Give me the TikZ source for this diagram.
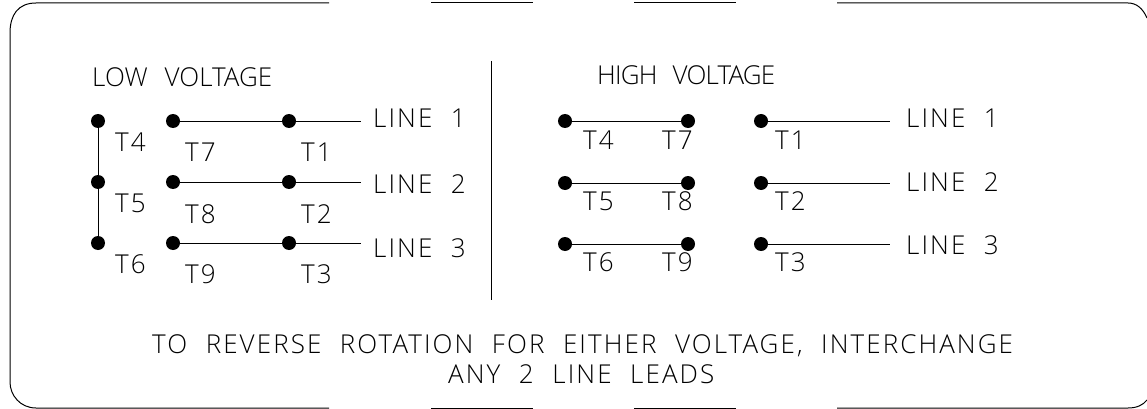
\documentclass[tikz,border=0pt]{standalone}
\usepackage{xcolor}
\usepackage{fontspec}
\setmainfont{Open Sans Light}[LetterSpace=8,WordSpace=2.1]
\newfontfamily\titlefont{Open Sans Light}[WordSpace=2.5]
\tikzset{
  term/.style={circle,fill=black,inner sep=0pt,minimum size=14pt},
  lbl/.style={anchor=base west,inner sep=0pt,font=\fontsize{26}{26}\selectfont},
  ttl/.style={lbl,font=\titlefont\fontsize{26}{26}\selectfont},
  wire/.style={line width=1pt}
}
\begin{document}
\begin{tikzpicture}[x=1pt,y=-1pt]
		\useasboundingbox(0,0)rectangle(1147,409);
		% frame
		\draw[wire](329,3)--(36,3)..controls(18,3)and(10,15)..(10,33)--(10,382)..controls(10,395)and(20,408)..(36,408)--(329,408);
		\draw[wire](431,3)--(533,3);
		\draw[wire](634,3)--(736,3);
		\draw[wire](837,3)--(1128,3)..controls(1137,3)and(1143,9)..(1147,18);
		\draw[wire](431,408)--(533,408);
		\draw[wire](634,408)--(736,408);
		\draw[wire](837,408)--(1128,408)..controls(1137,408)and(1143,405)..(1147,400);
		\draw[wire](491,61)--(491,300);
		% low voltage
		\node[ttl](low) at (92,87){LOW VOLTAGE};
		\foreach \n/\ya/\yb/\ta/\tb/\tc/\tl/\yc/\yd in {a/121/128/T4/T7/T1/LINE 1/151/161,b/182/193/T5/T8/T2/LINE 2/212/223,c/243/257/T6/T9/T3/LINE 3/273/283}{
			\node[term](l\n1) at (98,\ya){};
			\node[term](l\n2) at (173,\ya){};
			\node[term](l\n3) at (289,\ya){};
			\coordinate(l\n4) at (361,\ya);
			\draw[wire](l\n2)--(l\n3)--(l\n4);
			\node[lbl](lt\n1) at (115,\yc){\ta};
			\node[lbl](lt\n2) at (185,\yd){\tb};
			\node[lbl](lt\n3) at (301,\yd){\tc};
			\node[lbl](ll\n) at (373,\yb){\tl};
		}
		\draw[wire](la1)--(lb1)--(lc1);
		% high voltage
		\node[ttl](high) at (597,85){\addfontfeatures{LetterSpace=-3}HIGH VOLTAGE};
		\foreach \n/\ya/\yb/\yc/\ta/\tb/\tc/\tl in {a/121/127/149/T4/T7/T1/LINE 1,b/183/191/210/T5/T8/T2/LINE 2,c/244/254/271/T6/T9/T3/LINE 3}{
			\node[term](h\n1) at (565,\ya){};
			\node[term](h\n2) at (688,\ya){};
			\node[term](h\n3) at (761,\ya){};
			\coordinate(h\n4) at (890,\ya);
			\draw[wire](h\n1)--(h\n2);
			\draw[wire](h\n3)--(h\n4);
			\node[lbl](ht\n1) at (583,\yc){\ta};
			\node[lbl](ht\n2) at (662,\yc){\tb};
			\node[lbl](ht\n3) at (775,\yc){\tc};
			\node[lbl](hl\n) at (906,\yb){\tl};
		}
		% note
		\node[lbl](note1) at (152,353){TO REVERSE ROTATION FOR EITHER VOLTAGE, INTERCHANGE};
		\node[lbl](note2) at (448,383){ANY 2 LINE LEADS};
		\end{tikzpicture}
\end{document}
